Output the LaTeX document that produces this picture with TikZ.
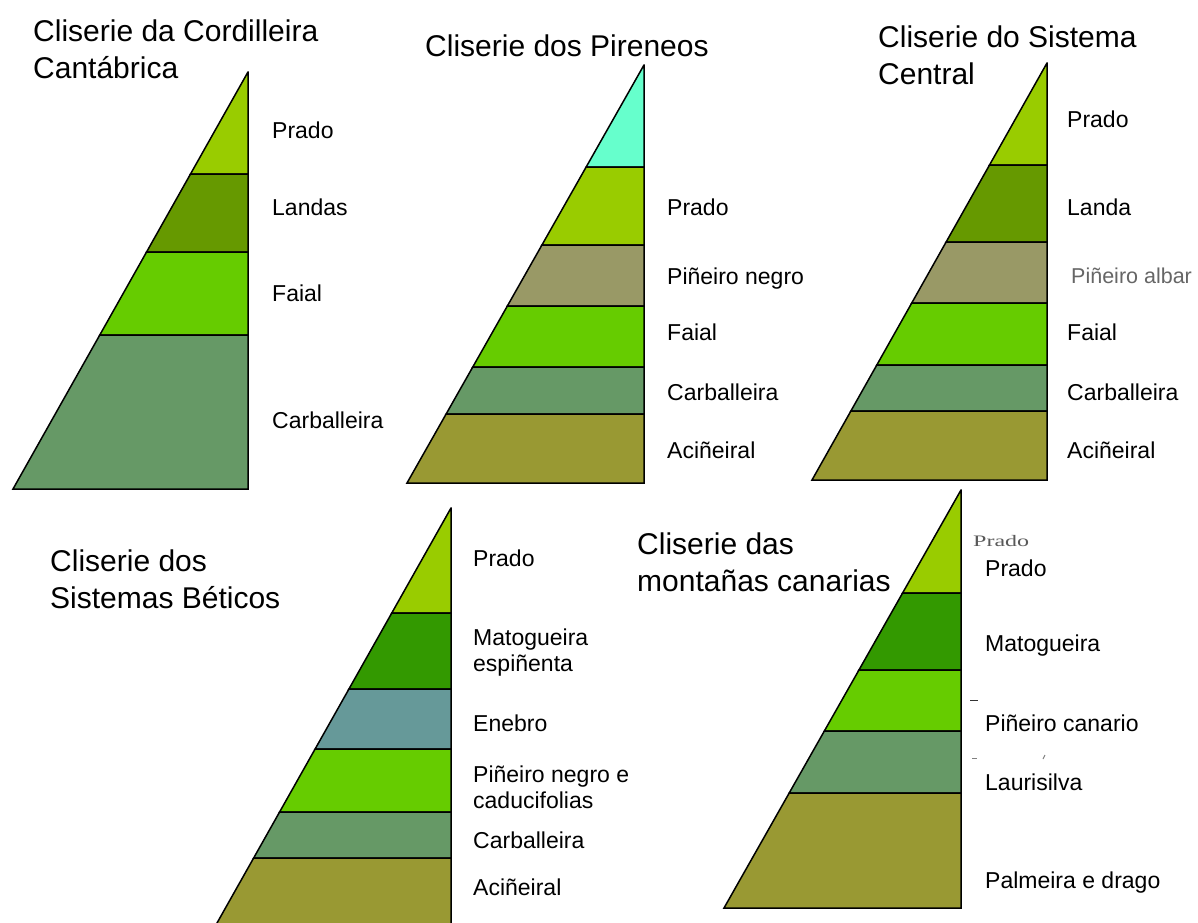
\documentclass[tikz,border=0pt]{standalone}
\usepackage{fontspec}
\setmainfont{Liberation Sans}
\newfontfamily\serifsmall{Liberation Serif}
\definecolor{prado}{HTML}{99CC00}
\definecolor{landa}{HTML}{669900}
\definecolor{faial}{HTML}{66CC00}
\definecolor{carb}{HTML}{669966}
\definecolor{acin}{HTML}{999933}
\definecolor{pine}{HTML}{999966}
\definecolor{aqua}{HTML}{66FFCC}
\definecolor{mato}{HTML}{339900}
\definecolor{enebro}{HTML}{669999}
\newcommand\zband[7]{%
  \pgfmathsetmacro\xa{#3+(#1-#3)/(#4-#2)*(#4-#5)}%
  \pgfmathsetmacro\xb{#3+(#1-#3)/(#4-#2)*(#4-#6)}%
  \filldraw[fill=#7, bandline] (\xa,#5) -- (#1,#5) -- (#1,#6) -- (\xb,#6) -- cycle;}
\tikzset{
  bandline/.style={draw=black, line width=1.5bp, line join=miter},
  ttl/.style={anchor=base west, inner sep=0pt, align=left, font=\fontsize{30bp}{37bp}\selectfont},
  lbl/.style={anchor=base west, inner sep=0pt, align=left, font=\fontsize{23bp}{26bp}\selectfont},
}
\begin{document}
\begin{tikzpicture}[x=1bp, y=-1bp]
\useasboundingbox (0,0) rectangle (1198,923);
\fill[white] (0,0) rectangle (1198,923);
% ---- Cordilleira Cantabrica: apex (248,72), left 13, base 489
\zband{248}{72}{13}{489}{72}{174}{prado}
\zband{248}{72}{13}{489}{174}{252}{landa}
\zband{248}{72}{13}{489}{252}{335}{faial}
\zband{248}{72}{13}{489}{335}{489}{carb}
\node[ttl] (t1) at (33,78) {Cliserie da Cordilleira\\Cantábrica};
\node[lbl] (a1) at (272,138) {Prado};
\node[lbl] (a2) at (272,215) {Landas};
\node[lbl] (a3) at (272,301) {Faial};
\node[lbl] (a4) at (272,428) {Carballeira};
% ---- Pireneos: apex (644,65), left 407, base 483
\zband{644}{65}{407}{483}{65}{167}{aqua}
\zband{644}{65}{407}{483}{167}{245}{prado}
\zband{644}{65}{407}{483}{245}{306}{pine}
\zband{644}{65}{407}{483}{306}{367}{faial}
\zband{644}{65}{407}{483}{367}{414}{carb}
\zband{644}{65}{407}{483}{414}{483}{acin}
\node[ttl] (t2) at (425,56) {Cliserie dos Pireneos};
\node[lbl] (b1) at (667,215) {Prado};
\node[lbl] (b2) at (667,284) {Piñeiro negro};
\node[lbl] (b3) at (667,340) {Faial};
\node[lbl] (b4) at (667,400) {Carballeira};
\node[lbl] (b5) at (667,458) {Aciñeiral};
% ---- Sistema Central: apex (1047,63), left 812, base 480
\zband{1047}{63}{812}{480}{63}{165}{prado}
\zband{1047}{63}{812}{480}{165}{242}{landa}
\zband{1047}{63}{812}{480}{242}{303}{pine}
\zband{1047}{63}{812}{480}{303}{365}{faial}
\zband{1047}{63}{812}{480}{365}{411}{carb}
\zband{1047}{63}{812}{480}{411}{480}{acin}
\node[ttl] (t3) at (878,84) {Cliserie do Sistema\\Central};
\node[lbl] (c1) at (1067,127) {Prado};
\node[lbl] (c2) at (1067,215) {Landa};
\node[lbl, text=black!60, font=\fontsize{21.5bp}{26bp}\selectfont] (c3) at (1071,283) {Piñeiro albar};
\node[lbl] (c4) at (1067,340) {Faial};
\node[lbl] (c5) at (1067,400) {Carballeira};
\node[lbl] (c6) at (1067,458) {Aciñeiral};
% ---- Sistemas Beticos: apex (451,508), left 217 at 923
\zband{451}{508}{217}{923}{508}{613}{prado}
\zband{451}{508}{217}{923}{613}{689}{mato}
\zband{451}{508}{217}{923}{689}{749}{enebro}
\zband{451}{508}{217}{923}{749}{812}{faial}
\zband{451}{508}{217}{923}{812}{858}{carb}
\zband{451}{508}{217}{923}{858}{940}{acin}
\node[ttl] (t4) at (50,608) {Cliserie dos\\Sistemas Béticos};
\node[lbl] (d1) at (473,566) {Prado};
\node[lbl] (d2) at (473,671) {Matogueira\\espiñenta};
\node[lbl] (d3) at (473,731) {Enebro};
\node[lbl] (d4) at (473,808) {Piñeiro negro e\\caducifolias};
\node[lbl] (d5) at (473,848) {Carballeira};
\node[lbl] (d6) at (473,895) {Aciñeiral};
% ---- Montanas canarias: apex (961,490), left 724, base 908
\zband{961}{490}{724}{908}{490}{593}{prado}
\zband{961}{490}{724}{908}{593}{670}{mato}
\zband{961}{490}{724}{908}{670}{731}{faial}
\zband{961}{490}{724}{908}{731}{793}{carb}
\zband{961}{490}{724}{908}{793}{908}{acin}
\node[ttl] (t5) at (637,591) {Cliserie das\\montañas canarias};
\node[anchor=base west, inner sep=0pt, text=black!65] (e0) at (973,546)
  {\scalebox{1.5}[1]{\serifsmall\fontsize{16bp}{18bp}\selectfont Prado}};
\node[lbl] (e1) at (985,576) {Prado};
\node[lbl] (e2) at (985,651) {Matogueira};
\node[lbl] (e3) at (985,731) {Piñeiro canario};
\node[lbl] (e4) at (985,790) {Laurisilva};
\node[lbl] (e5) at (985,888) {Palmeira e drago};
\draw[black!80, line width=1bp] (970,700) -- (978,700);
\draw[black!50, line width=1bp] (972,758) -- (977,758);
\draw[black!50, line width=1bp] (1043,759) -- (1045,755);
\end{tikzpicture}
\end{document}
